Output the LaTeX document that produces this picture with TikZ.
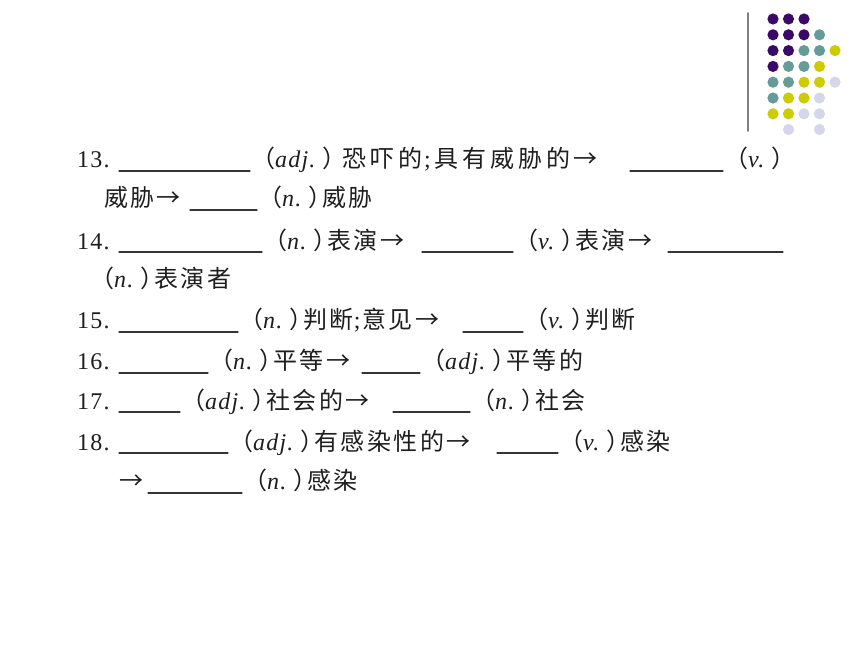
\documentclass[tikz,border=0pt]{standalone}
\usepackage{fontspec}
\setmainfont[LetterSpace=10]{Noto Sans CJK SC}
\newfontfamily\lat[LetterSpace=5]{Liberation Serif}
\definecolor{dotP}{RGB}{58,10,104}
\definecolor{dotT}{RGB}{102,155,153}
\definecolor{dotY}{RGB}{204,204,0}
\definecolor{dotL}{RGB}{214,214,234}
\definecolor{ink}{RGB}{30,30,30}
\newcommand\wc[1]{（{\lat\itshape #1}\hspace{7pt}）\kern-10pt}
\newcommand\num[1]{{\lat #1}}
\begin{document}
\begin{tikzpicture}[x=1pt,y=-1pt,line cap=round]
	\tikzset{every node/.style={inner sep=0pt,anchor=base west,text=ink,font=\fontsize{24}{28}\selectfont},
		blank/.style={draw=ink!90,line width=1.3pt}}
	\useasboundingbox[fill=white] (0,0) rectangle (860,645);
	% corner dots
	\draw[gray,line width=1.6pt] (748,13)--(748,131);
	\foreach \c/\r/\k in {0/0/P,1/0/P,2/0/P,
		0/1/P,1/1/P,2/1/P,3/1/T,
		0/2/P,1/2/P,2/2/T,3/2/T,4/2/Y,
		0/3/P,1/3/T,2/3/T,3/3/Y,
		0/4/T,1/4/T,2/4/Y,3/4/Y,4/4/L,
		0/5/T,1/5/Y,2/5/Y,3/5/L,
		0/6/Y,1/6/Y,2/6/L,3/6/L,
		1/7/L,3/7/L}
		\fill[dot\k] (773+15.5*\c,19+15.8*\r) circle (5.6);
	% 13
	\node (n13) at (77,167) {\num{13.}};
	\node (t13a) at (251,167) {\wc{adj.}\hspace{6pt}{\addfontfeature{LetterSpace=16}恐吓的{\lat\hspace{2pt};\hspace{4pt}}具有威胁的→}};
	\node (t13b) at (724,167) {\wc{v.}};
	\draw[blank] (119,171)--(250,171) (630,171)--(723,171);
	\node (t13c) at (104,206) {威胁→};
	\node (t13d) at (258,206) {\wc{n.}威胁};
	\draw[blank] (190,210)--(257,210);
	% 14
	\node (n14) at (77,249) {\num{14.}};
	\node (t14a) at (263,249) {\wc{n.}表演→};
	\node (t14b) at (514,249) {\wc{v.}表演→};
	\draw[blank] (119,252)--(262,252) (422,252)--(513,252) (668,252)--(783,252);
	\node (t14c) at (90,287) {\wc{n.}表演者};
	% 15
	\node (n15) at (77,328) {\num{15.}};
	\node (t15a) at (239,328) {\wc{n.}判断{\lat;\hspace{2pt}}意见→};
	\node (t15b) at (524,328) {\wc{v.}判断};
	\draw[blank] (119,332)--(238,332) (463,332)--(523,332);
	% 16
	\node (n16) at (77,369) {\num{16.}};
	\node (t16a) at (209,369) {\wc{n.}平等→};
	\node (t16b) at (421,369) {\wc{adj.}平等的};
	\draw[blank] (119,373)--(208,373) (362,373)--(420,373);
	% 17
	\node (n17) at (77,409) {\num{17.}};
	\node (t17a) at (181,409) {\wc{adj.}社会的→};
	\node (t17b) at (471,409) {\wc{n.}社会};
	\draw[blank] (119,412)--(180,412) (393,412)--(470,412);
	% 18
	\node (n18) at (77,450) {\num{18.}};
	\node (t18a) at (229,450) {\wc{adj.}有感染性的→};
	\node (t18b) at (559,450) {\wc{v.}感染};
	\draw[blank] (119,453)--(228,453) (497,453)--(558,453);
	\node (t18c) at (119,489) {→};
	\node (t18d) at (243,489) {\wc{n.}感染};
	\draw[blank] (148,493)--(242,493);
\end{tikzpicture}
\end{document}
